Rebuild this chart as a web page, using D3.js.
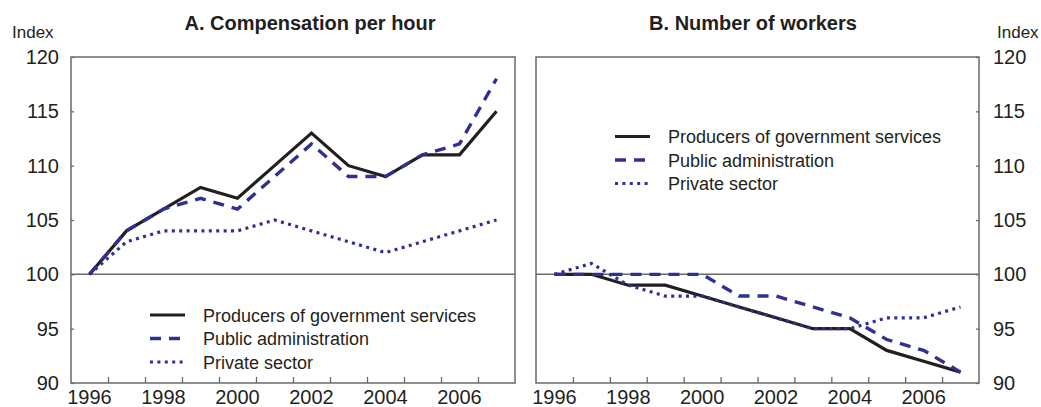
<!DOCTYPE html>
<html>
<head>
<meta charset="utf-8">
<script src="https://cdn.jsdelivr.net/npm/d3@7/dist/d3.min.js"></script>
<style>
  html, body { margin: 0; padding: 0; background: #fff; }
  svg { display: block; font-family: "Liberation Sans", Arial, Helvetica, sans-serif; }
</style>
</head>
<body>
<svg id="chart" width="1041" height="407"></svg>
<script>
// ---- Data ----
const years = [1996, 1997, 1998, 1999, 2000, 2001, 2002, 2003, 2004, 2005, 2006, 2007];
const yearLabels = [1996, 1998, 2000, 2002, 2004, 2006];
const yTicks = [90, 95, 100, 105, 110, 115, 120];
const seriesNames = ["Producers of government services", "Public administration", "Private sector"];

const compProducers = [100, 104, 106, 108, 107, 110, 113, 110, 109, 111, 111, 115];
const compPublic    = [100, 104, 106, 107, 106, 109, 112, 109, 109, 111, 112, 118];
const compPrivate   = [100, 103, 104, 104, 104, 105, 104, 103, 102, 103, 104, 105];

const workProducers = [100, 100, 99, 99, 98, 97, 96, 95, 95, 93, 92, 91];
const workPublic    = [100, 100, 100, 100, 100, 98, 98, 97, 96, 94, 93, 91];
const workPrivate   = [100, 101, 99, 98, 98, 97, 96, 95, 95, 96, 96, 97];

const panelTitles = ["A. Compensation per hour", "B. Number of workers"];

// ---- Styles ----
const styles = [
  { color: "#231f20", width: 3.2, dash: null },
  { color: "#2e3192", width: 3.4, dash: "11,8" },
  { color: "#2e3192", width: 3.2, dash: "3,4.4" }
];
const frameColor = "#6a6a6a";

const svg = d3.select("#chart");
const yTop = 57, yBot = 383;

const panels = [
  { x0: 71, x1: 515, data: [compProducers, compPublic, compPrivate], title: panelTitles[0], titleX: 310,
    axisSide: "left", legend: { x: 150, y: 315 } },
  { x0: 536, x1: 979, data: [workProducers, workPublic, workPrivate], title: panelTitles[1], titleX: 753,
    axisSide: "right", legend: { x: 615, y: 136.5 } }
];

panels.forEach(p => {
  const x = d3.scaleLinear().domain([years[0] - 0.5, years[years.length - 1] + 0.5]).range([p.x0, p.x1]);
  const y = d3.scaleLinear().domain([90, 120]).range([yBot, yTop]);
  const g = svg.append("g");

  // y axis
  if (p.axisSide === "left") {
    const ax = g.append("g").attr("transform", `translate(${p.x0},0)`)
      .call(d3.axisLeft(y).tickValues(yTicks).tickSize(-3).tickPadding(12).tickFormat(d3.format("d")));
    ax.select(".domain").remove();
    ax.selectAll("line").attr("stroke", frameColor).attr("stroke-width", 1.3);
    ax.selectAll("text").attr("font-size", 20).attr("fill", "#231f20");
    svg.append("text").attr("x", 12).attr("y", 38).attr("font-size", 17).attr("fill", "#231f20").text("Index");
  } else {
    const ax = g.append("g").attr("transform", `translate(${p.x1},0)`)
      .call(d3.axisRight(y).tickValues(yTicks).tickSize(-3).tickPadding(14).tickFormat(d3.format("d")));
    ax.select(".domain").remove();
    ax.selectAll("line").attr("stroke", frameColor).attr("stroke-width", 1.3);
    ax.selectAll("text").attr("font-size", 20).attr("fill", "#231f20");
    svg.append("text").attr("x", 997).attr("y", 38).attr("font-size", 17).attr("fill", "#231f20").text("Index");
  }

  // x axis ticks at year boundaries
  const bounds = years.slice(0, -1).map(d => d + 0.5);
  const xa = g.append("g").attr("transform", `translate(0,${yBot})`)
    .call(d3.axisBottom(x).tickValues(bounds).tickSize(-6).tickFormat(""));
  xa.select(".domain").remove();
  xa.selectAll("line").attr("stroke", frameColor).attr("stroke-width", 1.3);

  g.selectAll(".xlab").data(yearLabels).join("text")
    .attr("x", d => x(d)).attr("y", 404).attr("text-anchor", "middle")
    .attr("font-size", 20).attr("fill", "#231f20").text(d => d);

  // reference line at 100
  g.append("line").attr("x1", p.x0).attr("x2", p.x1).attr("y1", y(100)).attr("y2", y(100))
    .attr("stroke", frameColor).attr("stroke-width", 1.5);

  // frame
  g.append("rect").attr("x", p.x0).attr("y", yTop).attr("width", p.x1 - p.x0).attr("height", yBot - yTop)
    .attr("fill", "none").attr("stroke", frameColor).attr("stroke-width", 1.5);

  // title
  svg.append("text").attr("x", p.titleX).attr("y", 30).attr("text-anchor", "middle")
    .attr("font-size", 20).attr("font-weight", "bold").attr("fill", "#231f20").text(p.title);

  // lines
  const line = d3.line().x((d, i) => x(years[i])).y(d => y(d));
  p.data.forEach((vals, si) => {
    const s = styles[si];
    g.append("path").datum(vals).attr("d", line)
      .attr("fill", "none").attr("stroke", s.color).attr("stroke-width", s.width)
      .attr("stroke-dasharray", s.dash).attr("stroke-linejoin", "miter");
  });

  // legend
  seriesNames.forEach((name, si) => {
    const s = styles[si];
    const ly = p.legend.y + si * 23.5;
    g.append("line").attr("x1", p.legend.x).attr("x2", p.legend.x + 35).attr("y1", ly).attr("y2", ly)
      .attr("stroke", s.color).attr("stroke-width", s.width).attr("stroke-dasharray", s.dash);
    g.append("text").attr("x", p.legend.x + 53).attr("y", ly + 6.5)
      .attr("font-size", 18).attr("fill", "#231f20").text(name);
  });
});
</script>
</body>
</html>
